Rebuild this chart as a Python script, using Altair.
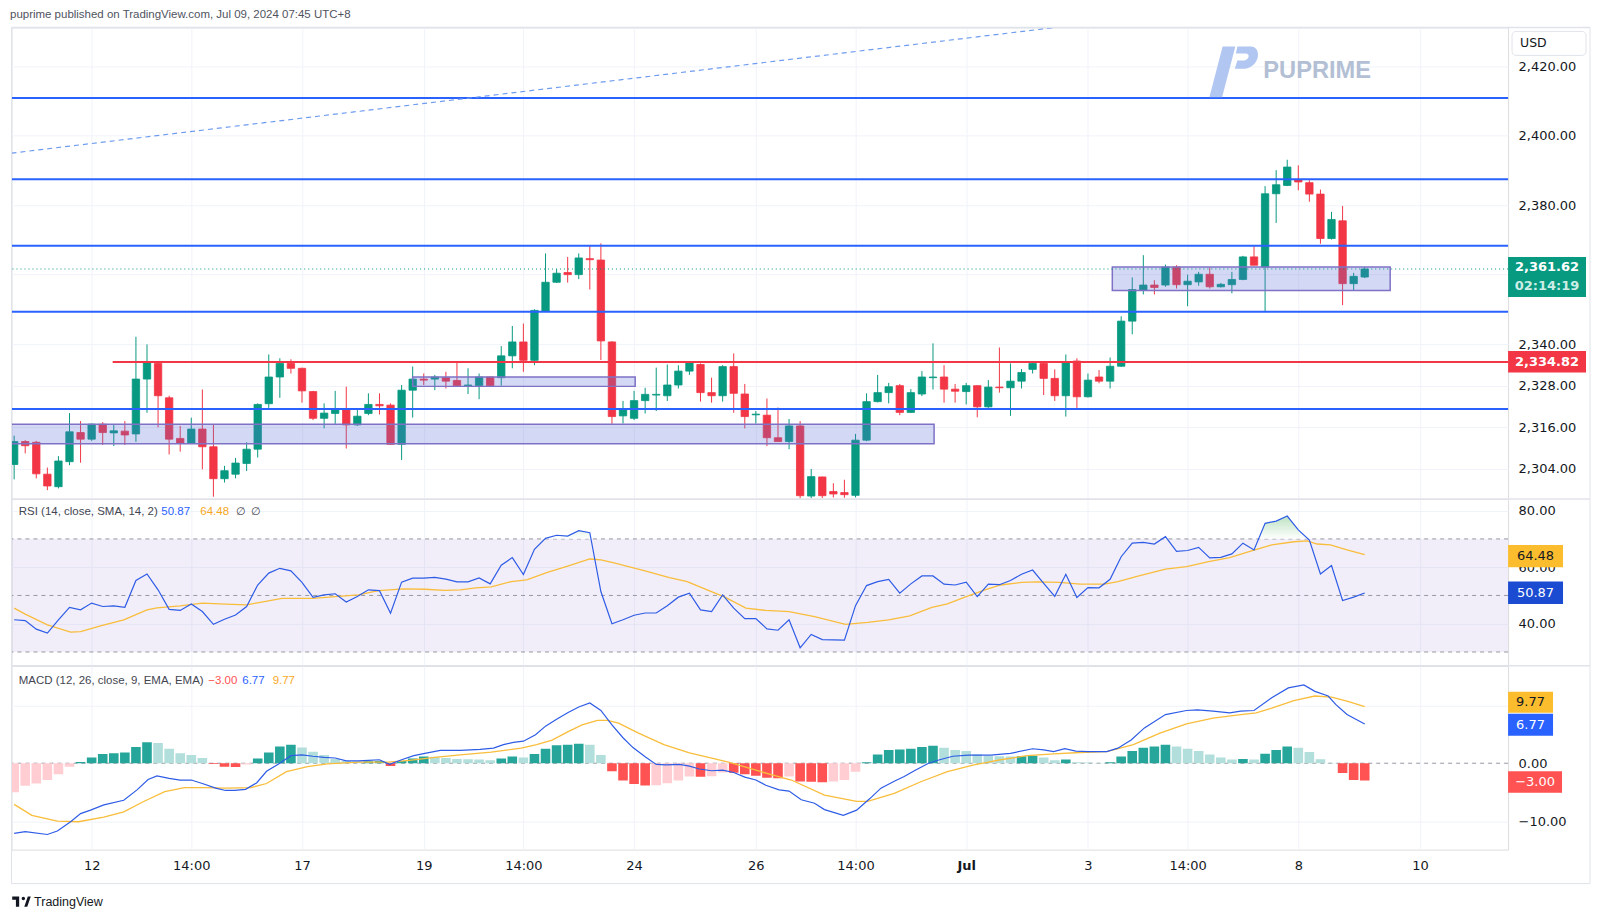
import altair as alt
import pandas as pd
import numpy as np

TITLE = "puprime published on TradingView.com, Jul 09, 2024 07:45 UTC+8"

# ---------------- price candles (4h), index 0..122 ----------------
OPEN = [2305.3, 2311.9, 2311.7, 2302.5, 2298.9, 2306.1, 2314.5, 2312.6, 2316.9, 2314.4,
        2314.9, 2314.1, 2329.9, 2334.4, 2324.5, 2312.8, 2311.4, 2315.5, 2310.4, 2301.2,
        2302.5, 2305.6, 2309.7, 2322.8, 2330.5, 2334.4, 2333.0, 2326.3, 2318.6, 2320.0,
        2321.2, 2316.7, 2320.0, 2322.6, 2322.4, 2311.1, 2326.7, 2329.9, 2329.9, 2330.3,
        2329.5, 2328.0, 2328.0, 2330.5, 2330.3, 2336.6, 2340.6, 2335.3, 2349.5, 2357.8,
        2360.6, 2360.0, 2364.6, 2364.2, 2340.6, 2319.3, 2318.6, 2323.7, 2325.3, 2325.1,
        2328.2, 2332.2, 2334.1, 2326.0, 2325.1, 2333.5, 2325.6, 2319.6, 2319.5, 2313.0,
        2311.9, 2316.4, 2296.2, 2301.7, 2297.5, 2297.2, 2296.4, 2312.3, 2323.4, 2326.0,
        2328.0, 2320.3, 2325.6, 2330.3, 2330.5, 2327.0, 2326.3, 2328.0, 2321.9, 2327.6,
        2327.4, 2329.3, 2332.7, 2334.4, 2330.1, 2325.1, 2335.1, 2324.8, 2330.5, 2329.3,
        2333.6, 2346.6, 2355.5, 2357.0, 2357.0, 2362.2, 2357.1, 2357.9, 2360.1, 2356.5,
        2357.1, 2358.6, 2365.1, 2362.2, 2383.3, 2385.7, 2387.4, 2386.5, 2383.2, 2370.4,
        2375.5, 2357.4, 2359.3]
HIGH = [2313.6, 2312.3, 2312.1, 2304.4, 2307.7, 2320.1, 2317.8, 2317.1, 2317.5, 2316.9,
        2317.8, 2342.1, 2339.9, 2334.6, 2325.1, 2316.4, 2318.8, 2326.9, 2316.9, 2304.9,
        2307.2, 2311.7, 2322.9, 2337.0, 2335.9, 2335.6, 2333.2, 2326.5, 2322.9, 2326.5,
        2327.7, 2321.0, 2325.8, 2325.8, 2322.9, 2328.2, 2333.5, 2331.5, 2331.1, 2332.0,
        2334.9, 2333.0, 2331.5, 2330.6, 2339.4, 2345.2, 2345.9, 2350.0, 2366.1, 2361.6,
        2365.1, 2366.1, 2368.2, 2369.0, 2340.8, 2323.6, 2326.5, 2327.4, 2333.2, 2334.1,
        2333.9, 2335.1, 2334.4, 2330.3, 2333.9, 2337.3, 2328.5, 2320.7, 2324.3, 2321.7,
        2318.4, 2317.8, 2304.0, 2301.8, 2299.9, 2300.9, 2314.1, 2325.8, 2331.1, 2328.8,
        2328.5, 2327.0, 2332.2, 2340.2, 2333.9, 2328.5, 2328.8, 2328.1, 2329.6, 2339.0,
        2334.4, 2332.8, 2334.6, 2335.1, 2332.7, 2337.0, 2335.9, 2331.5, 2332.5, 2336.1,
        2348.0, 2359.2, 2365.6, 2358.4, 2362.9, 2362.7, 2360.0, 2360.8, 2362.0, 2357.6,
        2360.8, 2365.4, 2368.2, 2385.5, 2390.1, 2393.1, 2391.5, 2387.2, 2384.5, 2378.1,
        2379.8, 2360.5, 2362.2]
LOW = [2301.0, 2308.5, 2301.3, 2297.9, 2298.4, 2305.1, 2305.8, 2312.1, 2310.9, 2310.6,
       2310.9, 2311.8, 2320.2, 2316.0, 2308.2, 2309.0, 2311.4, 2303.9, 2296.0, 2300.1,
       2301.3, 2303.4, 2307.3, 2321.6, 2324.5, 2331.5, 2323.1, 2318.1, 2315.7, 2317.0,
       2309.9, 2316.4, 2319.5, 2319.7, 2310.9, 2306.6, 2318.8, 2328.2, 2326.7, 2327.2,
       2328.0, 2325.6, 2324.1, 2327.9, 2328.0, 2333.0, 2332.0, 2333.9, 2349.3, 2357.6,
       2357.7, 2358.7, 2355.7, 2335.4, 2317.0, 2317.1, 2318.1, 2320.0, 2320.7, 2323.6,
       2327.2, 2331.1, 2323.4, 2323.1, 2323.4, 2320.2, 2315.7, 2317.1, 2310.6, 2311.9,
       2309.7, 2295.5, 2295.5, 2295.6, 2295.8, 2295.7, 2295.8, 2312.0, 2323.2, 2322.9,
       2319.5, 2320.2, 2325.0, 2326.9, 2323.1, 2323.1, 2322.6, 2318.9, 2321.6, 2326.0,
       2319.3, 2327.2, 2331.5, 2325.3, 2323.6, 2319.1, 2321.6, 2324.6, 2328.7, 2327.2,
       2333.4, 2342.8, 2354.3, 2354.3, 2356.5, 2356.0, 2350.9, 2356.8, 2356.0, 2356.3,
       2354.6, 2358.4, 2362.7, 2349.3, 2374.9, 2385.5, 2384.3, 2381.0, 2368.9, 2370.1,
       2351.2, 2355.5, 2359.0]
CLOSE = [2311.9, 2310.7, 2302.6, 2299.1, 2306.3, 2314.7, 2312.6, 2316.9, 2314.5, 2315.0,
         2313.8, 2329.9, 2334.9, 2325.1, 2312.6, 2311.4, 2315.5, 2310.4, 2301.2, 2303.5,
         2305.7, 2309.7, 2322.6, 2330.5, 2334.4, 2333.0, 2326.5, 2318.6, 2320.1, 2321.2,
         2316.7, 2319.2, 2322.6, 2322.2, 2311.1, 2326.7, 2329.9, 2329.6, 2330.5, 2329.3,
         2328.0, 2328.2, 2330.5, 2328.0, 2336.6, 2340.6, 2335.3, 2349.7, 2357.8, 2360.4,
         2360.0, 2364.8, 2364.3, 2340.9, 2319.1, 2321.0, 2323.7, 2325.5, 2325.5, 2328.2,
         2332.2, 2334.7, 2326.0, 2325.1, 2333.5, 2325.8, 2319.1, 2319.8, 2313.0, 2311.9,
         2316.4, 2296.3, 2301.8, 2296.3, 2296.8, 2296.6, 2312.3, 2323.4, 2326.0, 2327.7,
         2320.3, 2326.0, 2330.5, 2330.5, 2327.0, 2326.4, 2328.0, 2321.9, 2327.6, 2327.4,
         2329.3, 2331.8, 2334.4, 2330.1, 2325.1, 2334.7, 2324.8, 2329.6, 2329.3, 2333.6,
         2346.6, 2355.7, 2357.0, 2356.3, 2362.2, 2357.1, 2358.1, 2360.1, 2356.5, 2357.2,
         2358.6, 2365.1, 2362.7, 2383.3, 2385.9, 2391.0, 2386.7, 2383.2, 2370.4, 2375.9,
         2357.4, 2359.5, 2361.62]

LEVELS = [2410.9, 2387.5, 2368.3, 2349.3, 2321.3]
RED_LEVEL = 2334.82
RED_FROM = 8.9
LAST = 2361.62
ZONE_X0 = [-2.0, 36.0, 99.2]
ZONE_X1 = [83.1, 56.1, 124.3]
ZONE_LO = [2311.3, 2327.8, 2355.4]
ZONE_HI = [2316.9, 2330.5, 2362.2]
TREND_X = [-0.24, 94.0]
TREND_Y = [2395.0, 2431.2]
P_TICKS = [2304, 2316, 2328, 2340, 2360, 2380, 2400, 2420]

# ---------------- RSI ----------------
RSI = [41.4, 41.1, 38.1, 36.7, 41.4, 45.8, 44.9, 47.3, 46.1, 46.3,
       45.8, 55.3, 57.6, 52.0, 45.1, 44.7, 47.0, 44.3, 39.8, 41.6,
       43.1, 46.1, 53.7, 57.9, 59.6, 58.7, 54.6, 49.3, 50.2, 50.6,
       47.7, 49.6, 52.0, 51.7, 43.7, 54.7, 56.1, 56.1, 56.4, 55.8,
       54.8, 54.8, 56.2, 54.1, 60.7, 63.4, 57.4, 66.3, 70.2, 71.3,
       71.0, 72.9, 72.2, 51.4, 40.0, 41.4, 43.0, 43.8, 43.8, 46.4,
       49.4, 50.8, 44.9, 44.3, 50.2, 45.5, 41.8, 41.8, 38.2, 37.7,
       41.4, 31.5, 36.2, 34.4, 34.3, 34.2, 46.4, 53.5, 54.9, 55.7,
       50.8, 54.1, 56.9, 56.9, 54.0, 53.7, 54.7, 49.6, 54.0, 53.8,
       55.3, 57.5, 59.0, 54.3, 49.7, 57.5, 49.3, 52.8, 52.7, 55.7,
       63.7, 68.5, 68.8, 68.2, 70.8, 65.6, 65.9, 67.0, 63.3, 63.5,
       64.7, 68.5, 66.1, 75.5, 76.3, 78.1, 73.2, 69.6, 57.6, 60.6,
       48.2, 49.4, 50.87]
RSI_MA_X = [0, 1, 3, 5.1, 6, 7.8, 9.9, 12, 12.9, 15, 17, 19.1, 21, 22.1, 24.2, 27, 29, 31.1,
            32.9, 35.2, 37.1, 38.9, 40.3, 41.7, 43.1, 44.9, 46.3, 48.1, 50, 52, 53, 54.1,
            56.9, 59.2, 60.8, 62.6, 64.2, 66.1, 67.9, 70, 72.3, 75.1, 77.1, 79, 80.9,
            82.9, 84.3, 86, 87.7, 89.1, 91, 92.5, 94.4, 96.3, 98.5, 99.7, 101.6, 104,
            105.9, 107.9, 109.8, 111.7, 113.6, 115.6, 116.8, 117.7, 118.9, 120.4, 122]
RSI_MA_Y = [45.5, 43.4, 39.6, 37.0, 37.2, 39.2, 41.4, 44.9, 45.6, 46.3, 47.3, 46.9, 46.7,
            47.5, 49.0, 49.0, 49.6, 50.2, 51.7, 52.3, 52.2, 51.8, 52.0, 52.7, 53.0, 54.9,
            55.5, 58.1, 60.4, 62.9, 62.6, 61.6, 58.8, 56.3, 54.9, 52.0, 49.4, 45.5, 44.7,
            44.3, 42.5, 39.8, 40.5, 41.4, 42.8, 45.8, 47.0, 49.6, 52.0, 53.7, 54.6, 54.8,
            54.6, 54.0, 54.0, 54.9, 56.9, 59.3, 60.2, 62.0, 63.4, 65.7, 67.9, 69.0, 69.3,
            68.2, 67.9, 66.1, 64.48]

# ---------------- MACD ----------------
HIST = [-5.0, -3.9, -3.5, -2.9, -1.9, -0.6, 0.2, 1.0, 1.6, 1.7,
        1.85, 2.8, 3.6, 3.5, 2.5, 1.7, 1.4, 0.9, -0.15, -0.6,
        -0.65, -0.2, 0.8, 1.85, 2.9, 3.2, 2.7, 2.0, 1.4, 0.75,
        0.4, 0.3, 0.35, 0.4, -0.5, 0.4, 0.8, 1.15, 1.1, 0.9,
        0.75, 0.7, 0.65, 0.5, 0.8, 1.15, 1.0, 1.6, 2.5, 3.1,
        3.2, 3.35, 3.2, 1.4, -1.4, -3.0, -3.6, -3.85, -3.8, -3.45,
        -3.0, -2.3, -2.35, -2.25, -1.6, -1.65, -1.9, -2.15, -2.5, -2.6,
        -2.3, -3.15, -3.2, -3.3, -3.15, -2.9, -1.45, 0.15, 1.5, 2.3,
        2.35, 2.5, 2.8, 3.0, 2.65, 2.3, 2.1, 1.55, 1.25, 1.2,
        1.15, 1.2, 1.3, 1.0, 0.5, 0.65, 0.15, 0.12, 0.05, 0.15,
        1.15, 2.1, 2.65, 2.9, 3.2, 2.9, 2.5, 2.1, 1.5, 1.0,
        0.65, 0.75, 0.65, 1.65, 2.3, 2.9, 2.65, 1.95, 0.7, 0.05,
        -1.7, -2.9, -3.0]
MACD_X = [0, 1, 3, 3.9, 5.1, 6, 6.9, 8.1, 9.9, 11.1, 12.1, 12.9, 14, 15, 16, 17, 18.2, 19.1,
          19.9, 20.9, 21.9, 22.8, 24, 25, 26, 27, 28, 29, 30, 31.1, 32, 33, 33.9, 35, 36.1,
          37.1, 38.5, 40.3, 42.1, 43.3, 44.2, 45.1, 46, 47.1, 48, 49, 50, 51, 52, 53, 54,
          55, 55.9, 57, 58, 58.9, 60.1, 61, 61.9, 63, 64, 65, 66, 67, 67.9, 69.1, 70, 71.1,
          72.3, 73.2, 74.9, 76.1, 77.3, 78.3, 79.5, 80.4, 81.4, 82.6, 83.6, 84.8, 86.2,
          88.2, 90, 92, 93, 93.9, 94.9, 95.9, 97, 98.7, 99.7, 100.9, 102.1, 104, 105.9,
          106.9, 108.3, 109.8, 110.8, 112, 113.6, 115.1, 116.5, 117.5, 118.7, 119.4,
          120.4, 122]
MACD_Y = [-12.1, -11.8, -12.3, -11.7, -10.1, -8.7, -8.1, -7.2, -6.4, -4.6, -2.8, -2.2, -2.6,
          -2.9, -2.9, -3.5, -4.3, -4.7, -4.7, -4.5, -3.4, -1.4, 0.0, 1.3, 1.45, 1.2, 1.0,
          0.9, 0.4, 0.4, 0.5, 0.6, -0.2, 0.6, 1.3, 1.7, 2.2, 2.2, 2.4, 2.6, 3.2, 3.6, 3.8,
          4.9, 6.4, 7.6, 8.7, 9.7, 10.4, 9.1, 6.6, 4.4, 2.7, 1.1, -0.2, -0.3, -0.2, -0.5,
          -1.0, -1.3, -1.2, -1.6, -2.4, -2.9, -3.8, -4.6, -4.8, -6.3, -6.9, -8.0, -9.0,
          -8.1, -6.1, -4.3, -3.1, -2.3, -1.2, 0.0, 0.6, 1.2, 1.4, 1.4, 1.7, 2.5, 2.3, 2.0,
          2.5, 2.1, 2.0, 2.0, 2.6, 4.0, 6.1, 8.4, 9.1, 9.2, 9.0, 8.7, 9.0, 9.1, 11.3,
          13.0, 13.5, 12.4, 11.6, 10.1, 8.4, 6.77]
SIG_X = [0, 1.6, 3.9, 5.8, 8.1, 9.9, 11.7, 13.6, 15.4, 17.3, 19.1, 21.4, 22.8, 24.6, 26.5,
         28.3, 31.1, 33.8, 35.7, 38, 40.3, 43.1, 45.8, 47.2, 48.6, 50, 51.3, 52.7, 53.6,
         54.6, 56.4, 58.7, 61, 63.3, 64.7, 67, 68.8, 70.2, 73.2, 76.1, 77.1, 79.5, 81.9,
         84.3, 86.7, 89.1, 91.5, 93.9, 96.3, 98.7, 101.1, 103.5, 105.9, 108.3, 110.8,
         112.2, 113.6, 115.6, 117.5, 119, 120.4, 122]
SIG_Y = [-7.1, -9.0, -10.0, -10.1, -9.3, -8.4, -6.6, -4.9, -4.2, -4.2, -4.3, -4.2, -3.5,
         -1.45, -0.6, -0.1, 0.2, 0.2, 0.5, 1.0, 1.45, 1.9, 2.6, 3.2, 4.0, 5.4, 6.6, 7.4,
         7.4, 6.9, 5.2, 3.2, 1.8, 0.75, 0.1, -1.2, -2.2, -2.9, -5.5, -6.6, -6.6, -5.2,
         -3.2, -1.45, -0.3, 0.6, 1.3, 1.6, 1.85, 2.0, 3.2, 5.2, 6.8, 7.8, 8.4, 8.7, 9.5,
         10.8, 11.6, 11.4, 10.7, 9.77]

TICK_IDX = [7, 16, 26, 37, 46, 56, 67, 76, 86, 97, 106, 116, 127]
TICK_LBL = ["12", "14:00", "17", "19", "14:00", "24", "26", "14:00", "Jul", "3", "14:00", "8", "10"]

# ---------------- layout ----------------
W = 1498
H_P, H_R, H_M = 472, 167, 184
FRAME_R = 1580
X_DOM = [-0.24, 134.95]
P_DOM = [2295.36, 2431.23]
R_DOM = [25.12, 84.13]
M_DOM = [-14.91, 16.81]

FONT = "DejaVu Sans"
LFONT = "Liberation Sans"
GRID = "#f0f3fa"
FRAME = "#e0e3eb"
TXT = "#131722"
UP, DOWN = "#089981", "#f23645"

xs = alt.Scale(domain=X_DOM, nice=False, zero=False, padding=0)

label_expr = "''"
for v, l in reversed(list(zip(TICK_IDX, TICK_LBL))):
    label_expr = f"datum.value == {v} ? '{l}' : ({label_expr})"

ax_plain = alt.Axis(values=TICK_IDX, grid=True, gridColor=GRID, ticks=False, domain=False,
                    labels=False, title=None)
ax_bottom = alt.Axis(values=TICK_IDX, grid=True, gridColor=GRID, ticks=False, domain=False,
                     title=None, labelExpr=label_expr, labelFont=FONT, labelFontSize=13,
                     labelColor=TXT, labelPadding=10, labelOverlap=False, labelFlush=False,
                     labelFontWeight={"condition": {"test": "datum.value == 86", "value": "bold"},
                                      "value": "normal"})


def yaxis(values, expr, extra=None):
    kw = dict(orient="right", values=values, labelExpr=expr, grid=True, gridColor=GRID,
              ticks=False, domain=False, title=None, labelFont=FONT, labelFontSize=13,
              labelColor=TXT, labelPadding=10)
    if extra:
        kw.update(extra)
    return alt.Axis(**kw)


def one():
    return pd.DataFrame({"a": [0]})


def frame_rules(h, top=True, bottom=None):
    layers = []
    base = alt.Chart(one())
    if top:
        layers.append(base.mark_rule(color=FRAME, strokeWidth=1.5).encode(
            x=alt.value(0), x2=alt.value(FRAME_R), y=alt.value(0)))
    yb = bottom if bottom is not None else h
    layers.append(base.mark_rule(color=FRAME, strokeWidth=1).encode(
        x=alt.value(0), y=alt.value(0), y2=alt.value(yb)))
    layers.append(base.mark_rule(color=FRAME, strokeWidth=1).encode(
        x=alt.value(FRAME_R), y=alt.value(0), y2=alt.value(yb)))
    if bottom is not None:
        layers.append(base.mark_rule(color=FRAME, strokeWidth=1).encode(
            x=alt.value(0), x2=alt.value(FRAME_R), y=alt.value(bottom)))
    return layers


def value_box(df_val, Yf, text, fill, tcolor, w, off_top, off_bot, bold=False, size=13):
    c = alt.Chart(df_val)
    box = c.mark_rect(color=fill, yOffset=off_top, y2Offset=off_bot).encode(
        y=Yf("v"), y2="v", x=alt.value(W), x2=alt.value(W + w))
    txt = c.mark_text(text=text, color=tcolor, font=FONT, fontSize=size,
                      fontWeight="bold" if bold else "normal", align="center",
                      baseline="middle", dy=(off_top + off_bot) / 2).encode(
        y=Yf("v"), x=alt.value(W + w / 2))
    return [box, txt]


# ======================= PRICE PANEL =======================
n = len(OPEN)
cdf = pd.DataFrame({"i": np.arange(n), "o": OPEN, "h": HIGH, "l": LOW, "c": CLOSE})
cdf["dir"] = np.where(cdf["c"] >= cdf["o"], "up", "down")

ys_p = alt.Scale(domain=P_DOM, nice=False, zero=False, padding=0)
ax_p = yaxis(P_TICKS, "datum.value == 2360 ? '' : format(datum.value, ',.2f')")


def Yp(f):
    return alt.Y(f, type="quantitative", scale=ys_p, axis=ax_p)


def Xp(f):
    return alt.X(f, type="quantitative", scale=xs, axis=ax_plain)


col = alt.Color("dir:N", scale=alt.Scale(domain=["up", "down"], range=[UP, DOWN]), legend=None)
stk = alt.Stroke("dir:N", scale=alt.Scale(domain=["up", "down"], range=[UP, DOWN]), legend=None)

wicks = alt.Chart(cdf).mark_rule(strokeWidth=1, clip=True).encode(
    x=Xp("i"), y=Yp("l"), y2="h", color=col)
bodies = alt.Chart(cdf).mark_bar(size=7.4, strokeWidth=0.8, clip=True).encode(
    x=Xp("i"), y=Yp("o"), y2="c", color=col, stroke=stk)

zdf = pd.DataFrame({"x0": ZONE_X0, "x1": ZONE_X1, "lo": ZONE_LO, "hi": ZONE_HI})
zones = alt.Chart(zdf).mark_rect(fill="#5b6fd6", fillOpacity=0.27, stroke="#7f72c6",
                                 strokeWidth=1.5, clip=True).encode(
    x=Xp("x0"), x2="x1", y=Yp("lo"), y2="hi")

levels = alt.Chart(pd.DataFrame({"y": LEVELS})).mark_rule(color="#2962ff", strokeWidth=2).encode(
    y=Yp("y"))
red = alt.Chart(pd.DataFrame({"x0": [RED_FROM], "x1": [X_DOM[1]], "y": [RED_LEVEL]})).mark_rule(
    color=DOWN, strokeWidth=2).encode(x=Xp("x0"), x2="x1", y=Yp("y"))
lastline = alt.Chart(pd.DataFrame({"y": [LAST]})).mark_rule(
    color=UP, strokeWidth=1, strokeDash=[1, 3]).encode(y=Yp("y"))
trend = alt.Chart(pd.DataFrame({"x": TREND_X, "y": TREND_Y})).mark_line(
    color="#6f9cf0", strokeWidth=1.2, strokeDash=[5, 4], clip=True).encode(x=Xp("x"), y=Yp("y"))

LOGO_P = ("M-1,1 L-0.5,1 L0.02,-1 L-0.48,-1 Z "
          "M0.1,-1 L0.62,-1 C1.05,-1 1.02,-0.25 0.42,-0.12 L0.0,-0.12 L0.1,-0.45 "
          "L0.38,-0.45 C0.58,-0.5 0.6,-0.72 0.42,-0.72 L0.04,-0.72 Z")
wm_logo = alt.Chart(one()).mark_point(shape=LOGO_P, size=2600, filled=True, color="#a9c0ee",
                                      opacity=0.9, strokeWidth=0).encode(
    x=alt.value(1224.5), y=alt.value(44.5))
wm_text = alt.Chart(one()).mark_text(text="PUPRIME", font=LFONT, fontSize=23.7, fontWeight="bold",
                                     color="#b3bfd4", align="left", baseline="middle").encode(
    x=alt.value(1253), y=alt.value(44))

pv = pd.DataFrame({"v": [LAST]})
rv = pd.DataFrame({"v": [RED_LEVEL]})
gbox = alt.Chart(pv).mark_rect(color=UP, yOffset=-12, y2Offset=28).encode(
    y=Yp("v"), y2="v", x=alt.value(W), x2=alt.value(W + 78))
gt1 = alt.Chart(pv).mark_text(text="2,361.62", color="white", font=FONT, fontSize=13,
                              fontWeight="bold", align="center", baseline="middle", dy=-2).encode(
    y=Yp("v"), x=alt.value(W + 39))
gt2 = alt.Chart(pv).mark_text(text="02:14:19", color="#cdeee6", font=FONT, fontSize=13,
                              fontWeight="bold", align="center", baseline="middle", dy=17).encode(
    y=Yp("v"), x=alt.value(W + 39))
red_box = value_box(rv, Yp, "2,334.82", DOWN, "white", 78, -11, 10.5, bold=True)

usd_box = alt.Chart(one()).mark_rect(fill="white", stroke="#e0e3eb", strokeWidth=1,
                                     cornerRadius=4).encode(
    x=alt.value(W + 4), x2=alt.value(W + 78), y=alt.value(4), y2=alt.value(28))
usd_txt = alt.Chart(one()).mark_text(text="USD", font=FONT, fontSize=12.5, color=TXT,
                                     align="left", baseline="middle").encode(
    x=alt.value(W + 12), y=alt.value(16))

price = alt.layer(
    wicks, bodies, zones, levels, red, lastline, trend, wm_logo, wm_text,
    gbox, gt1, gt2, *red_box, usd_box, usd_txt, *frame_rules(H_P, top=True)
).properties(width=W, height=H_P)

# ======================= RSI PANEL =======================
ys_r = alt.Scale(domain=R_DOM, nice=False, zero=False, padding=0)
ax_r = yaxis([80, 60, 40], "format(datum.value, '.2f')")


def Yr(f):
    return alt.Y(f, type="quantitative", scale=ys_r, axis=ax_r)


def Xr(f):
    return alt.X(f, type="quantitative", scale=xs, axis=ax_plain)


rdf = pd.DataFrame({"i": np.arange(n), "r": RSI})
madf = pd.DataFrame({"i": RSI_MA_X, "m": RSI_MA_Y})

# overbought fill (RSI above 70), with crossing points of the line and the 70 level
ob_x, ob_y = [], []
for k in range(n):
    if k > 0:
        a, b = RSI[k - 1], RSI[k]
        if (a - 70) * (b - 70) < 0:
            t = (70 - a) / (b - a)
            ob_x.append(k - 1 + t)
            ob_y.append(70.0)
    ob_x.append(k)
    ob_y.append(max(RSI[k], 70.0))
obdf = pd.DataFrame({"i": ob_x, "t": ob_y, "b": 70.0})

band = alt.Chart(pd.DataFrame({"lo": [30], "hi": [70]})).mark_rect(
    color="#7e57c2", opacity=0.1).encode(y=Yr("hi"), y2="lo", x=alt.value(0), x2=alt.value(W))
dashes = alt.Chart(pd.DataFrame({"y": [70, 50, 30]})).mark_rule(
    color="#9598a1", strokeWidth=1, strokeDash=[4, 4]).encode(y=Yr("y"))
ob = alt.Chart(obdf).mark_area(
    color=alt.Gradient(gradient="linear", x1=0, x2=0, y1=0, y2=1,
                       stops=[alt.GradientStop(color="#9fd6a6", offset=0),
                              alt.GradientStop(color="#ffffff", offset=1)]),
    opacity=0.7, clip=True).encode(x=Xr("i"), y=Yr("t"), y2="b")
ma_line = alt.Chart(madf).mark_line(color="#f9bd3c", strokeWidth=1.3, clip=True).encode(
    x=Xr("i"), y=Yr("m"))
rsi_line = alt.Chart(rdf).mark_line(color="#2e5ce6", strokeWidth=1.2, clip=True).encode(
    x=Xr("i"), y=Yr("r"))


def legend_text(text, x, y, color):
    return alt.Chart(one()).mark_text(text=text, font=LFONT, fontSize=11.5, color=color,
                                      align="left", baseline="middle").encode(
        x=alt.value(x), y=alt.value(y))


rsi_leg = [
    legend_text("RSI (14, close, SMA, 14, 2)", 7.3, 13, "#434651"),
    legend_text("50.87", 150, 13, "#2962ff"),
    legend_text("64.48", 189, 13, "#f7a823"),
    legend_text("∅", 224.7, 13, "#434651"),
    legend_text("∅", 240, 13, "#434651"),
]
ma_box = value_box(pd.DataFrame({"v": [64.48]}), Yr, "64.48", "#fbbd2e", TXT, 55, -9.6, 12.7)
rsi_box = value_box(pd.DataFrame({"v": [50.87]}), Yr, "50.87", "#1a4bd1", "white", 55, -11.4, 10.9)

rsi = alt.layer(
    band, dashes, ob, ma_line, rsi_line, *rsi_leg, *ma_box, *rsi_box, *frame_rules(H_R, top=True)
).properties(width=W, height=H_R)

# ======================= MACD PANEL =======================
ys_m = alt.Scale(domain=M_DOM, nice=False, zero=False, padding=0)
ax_m = yaxis([10, 0, -10], "datum.value == 10 ? '' : format(datum.value, '.2f')",
             {"gridOpacity": {"condition": {"test": "datum.value == 0", "value": 0}, "value": 1}})


def Ym(f):
    return alt.Y(f, type="quantitative", scale=ys_m, axis=ax_m)


def Xm(f):
    return alt.X(f, type="quantitative", scale=xs, axis=ax_bottom)


hdf = pd.DataFrame({"i": np.arange(n), "h": HIST, "z": 0.0})
prev = np.concatenate([[HIST[0] - 1], HIST[:-1]])
hv = np.array(HIST)
hdf["k"] = np.where(hv >= 0, np.where(hv >= prev, "g", "lg"), np.where(hv >= prev, "p", "r"))

zero = alt.Chart(pd.DataFrame({"y": [0]})).mark_rule(
    color="#9598a1", strokeWidth=1, strokeDash=[4, 4]).encode(y=Ym("y"))
hist = alt.Chart(hdf).mark_bar(size=9.6, clip=True).encode(
    x=Xm("i"), y=Ym("h"), y2="z",
    color=alt.Color("k:N", scale=alt.Scale(domain=["g", "lg", "r", "p"],
                                           range=["#26a69a", "#b2dfdb", "#ff5252", "#ffcdd2"]),
                    legend=None))
sig_line = alt.Chart(pd.DataFrame({"i": SIG_X, "v": SIG_Y})).mark_line(
    color="#f9bd3c", strokeWidth=1.3, clip=True).encode(x=Xm("i"), y=Ym("v"))
macd_line = alt.Chart(pd.DataFrame({"i": MACD_X, "v": MACD_Y})).mark_line(
    color="#2e5ce6", strokeWidth=1.2, clip=True).encode(x=Xm("i"), y=Ym("v"))

macd_leg = [
    legend_text("MACD (12, 26, close, 9, EMA, EMA)", 7.3, 15.5, "#434651"),
    legend_text("−3.00", 197, 15.5, "#ff5252"),
    legend_text("6.77", 231, 15.5, "#2962ff"),
    legend_text("9.77", 261.4, 15.5, "#f7a823"),
]
sig_box = value_box(pd.DataFrame({"v": [9.77]}), Ym, "9.77", "#fbbd2e", TXT, 45, -14.8, 6.2)
macd_box = value_box(pd.DataFrame({"v": [6.77]}), Ym, "6.77", "#2962ff", "white", 45, -10.2, 11.8)
hist_box = value_box(pd.DataFrame({"v": [-3.0]}), Ym, "−3.00", "#ff5252", "white", 54, -9.4, 12.1)

TV_LOGO = ("M-1,-0.55 L-0.25,-0.55 L-0.25,0.55 L-0.6,0.55 L-0.6,-0.2 L-1,-0.2 Z "
           "M0.02,-0.33 A0.18,0.18 0 1 0 0.38,-0.33 A0.18,0.18 0 1 0 0.02,-0.33 Z "
           "M0.3,0.55 L0.68,-0.55 L1,-0.55 L0.62,0.55 Z")
tv_logo = alt.Chart(one()).mark_point(shape=TV_LOGO, size=346, filled=True, color=TXT,
                                      opacity=1, strokeWidth=0).encode(
    x=alt.value(10), y=alt.value(236))
tv_text = alt.Chart(one()).mark_text(text="TradingView", font=LFONT, fontSize=12.5, color=TXT,
                                     align="left", baseline="middle").encode(
    x=alt.value(22.6), y=alt.value(236))

macd = alt.layer(
    zero, hist, sig_line, macd_line, *macd_leg, *sig_box, *macd_box, *hist_box,
    tv_logo, tv_text, *frame_rules(H_M, top=True, bottom=218)
).properties(width=W, height=H_M)

chart = alt.vconcat(price, rsi, macd, spacing=0, bounds="flush").resolve_scale(
    color="independent", stroke="independent"
).properties(
    title=alt.TitleParams(text=TITLE, anchor="start", font=LFONT, fontSize=11.5,
                          fontWeight="normal", color="#50535e", offset=6),
    padding={"left": 1.5, "top": 0, "right": 0, "bottom": 0},
).configure_view(stroke=None).configure(background="white")

chart.save("out.html", embed_options={"renderer": "svg", "actions": False})
